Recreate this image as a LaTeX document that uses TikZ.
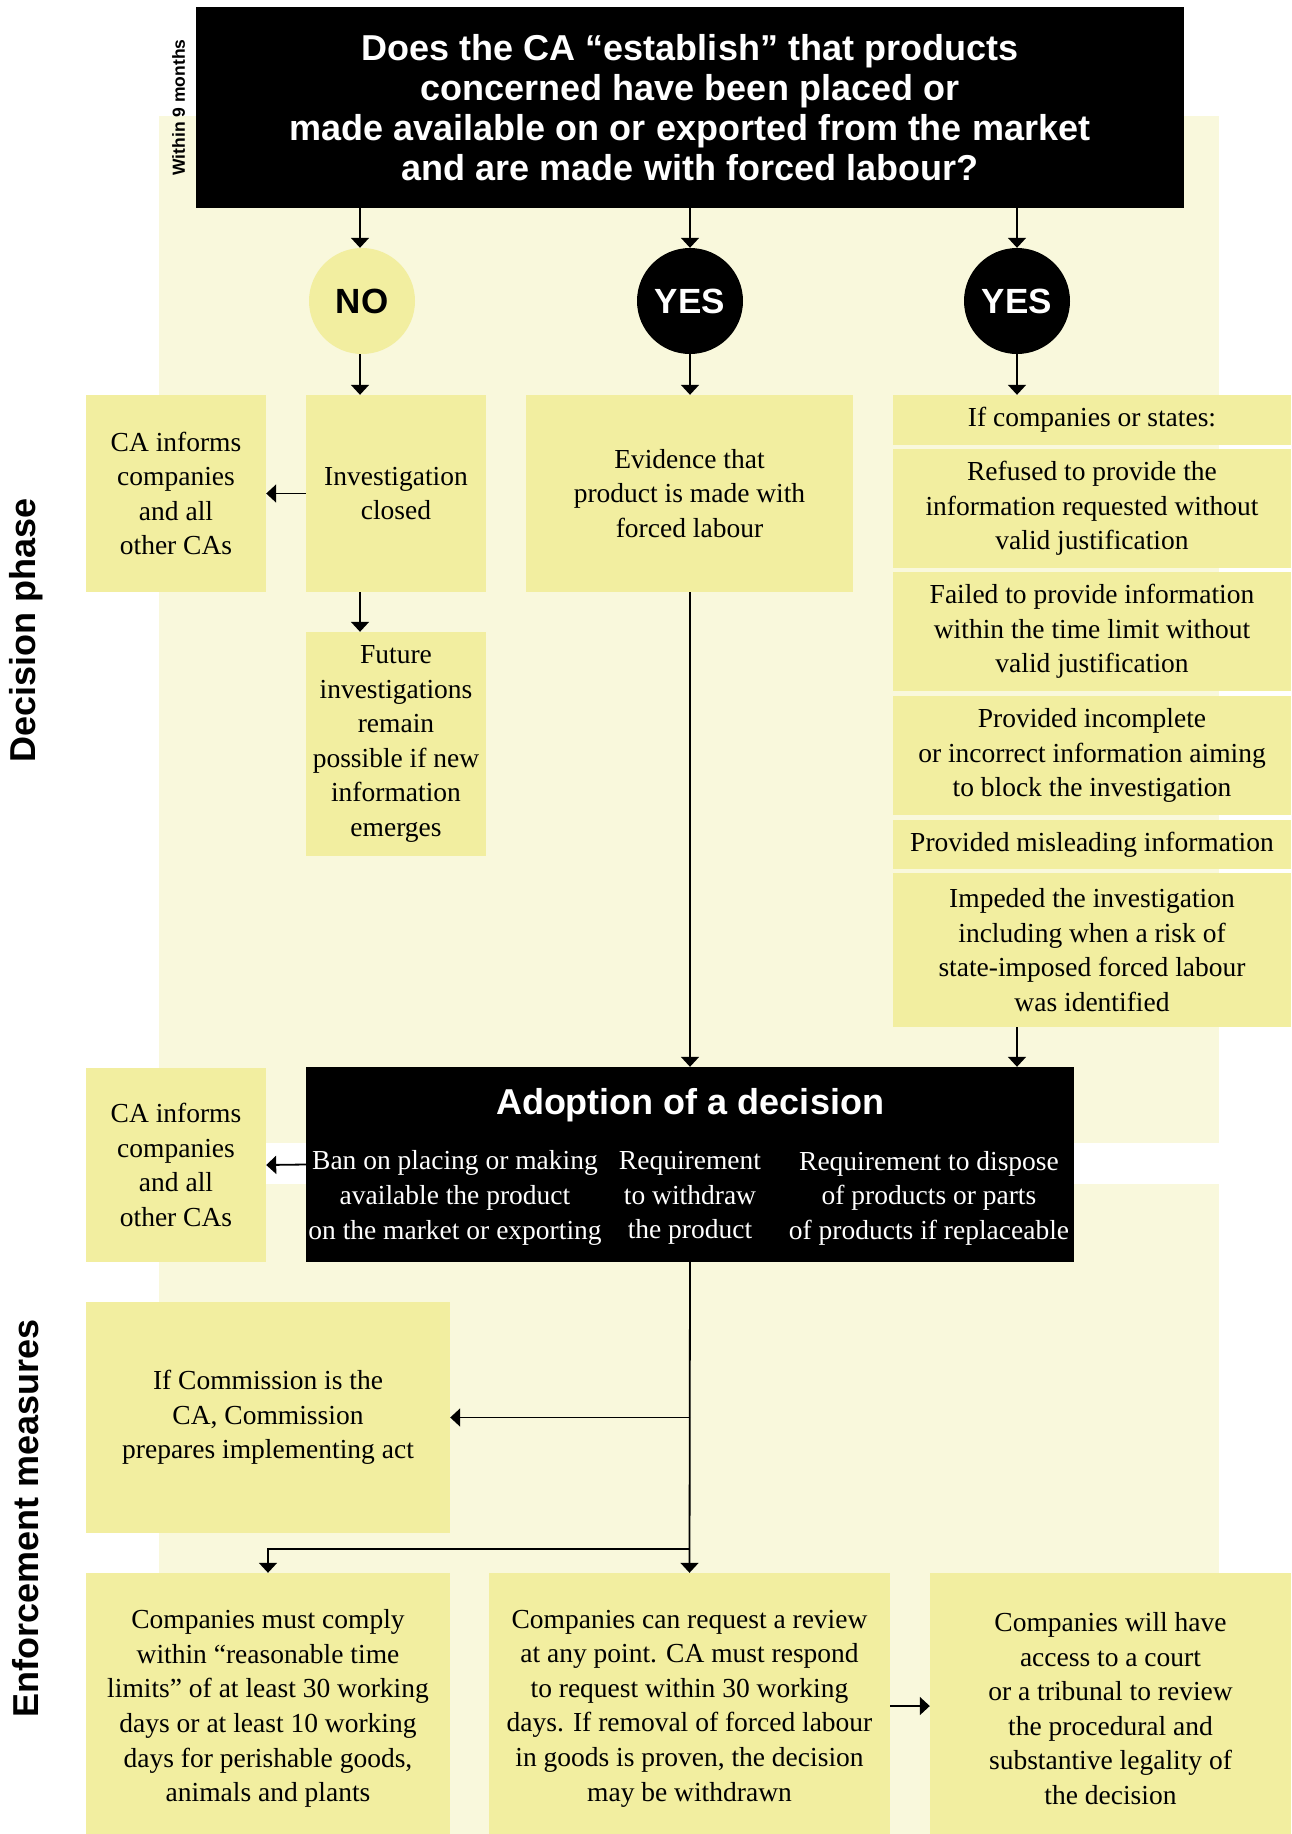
\documentclass[tikz,border=0pt]{standalone}
\usepackage{fontspec}
\setmainfont{Liberation Serif}
\newfontfamily\hsans{Liberation Sans}
\usetikzlibrary{arrows.meta}
\definecolor{bgcream}{HTML}{F9F8DC}
\definecolor{boxyellow}{HTML}{F2EEA0}
\tikzset{
  ybox/.style={fill=boxyellow, inner sep=0pt, align=center,
    font=\fontsize{27.5}{34.6}\selectfont},
  blackbox/.style={fill=black, inner sep=0pt, align=center, text=white},
  headtext/.style={font=\hsans\bfseries\fontsize{36}{40}\selectfont},
  wserif/.style={text=white, inner sep=0pt, align=center,
    font=\fontsize{27.5}{34.6}\selectfont},
  answer/.style={circle, minimum size=106pt, inner sep=0pt,
    font=\hsans\bfseries\fontsize{35}{38}\selectfont},
  sidelabel/.style={rotate=90, inner sep=0pt,
    font=\hsans\bfseries\fontsize{36}{40}\selectfont},
  arr/.style={line width=1.8pt, -{Triangle[length=10pt,width=18pt]}},
  plain/.style={line width=1.8pt}
}
\begin{document}
\begin{tikzpicture}[x=1pt,y=-1pt]
\useasboundingbox (0,0) rectangle (1291,1834);
\clip (0,0) rectangle (1291,1834);
% backgrounds
\fill[bgcream] (159,116) rectangle (1219,1143);
\fill[bgcream] (159,1184) rectangle (1219,1834);

% side labels
\node[sidelabel] (lbldec) at (26,630) {Decision phase};
\node[sidelabel] (lblenf) at (26,1518) {Enforcement measures};
\node[rotate=90, inner sep=0pt, font=\hsans\bfseries\fontsize{17.5}{20}\selectfont] (lbl9) at (178.5,107.5) {Within 9 months};

% top question
\node[blackbox, headtext, minimum width=988pt, minimum height=201pt] (top) at (690,107.5)
  {Does the CA “establish” that products\\ concerned have been placed or\\ made available on or exported from the market\\ and are made with forced labour?};

% answers
\node[answer, fill=boxyellow, text=black] (no) at (362,301) {NO};
\node[answer, fill=black, text=white] (yes1) at (690,301) {YES};
\node[answer, fill=black, text=white] (yes2) at (1017,301) {YES};

% decision phase boxes
\node[ybox, minimum width=180pt, minimum height=197pt] (ca1) at (176,493.5)
  {CA informs\\ companies\\ and all\\ other CAs};
\node[ybox, minimum width=180pt, minimum height=197pt] (inv) at (396,493.5)
  {Investigation\\ closed};
\node[ybox, minimum width=327pt, minimum height=197pt] (evid) at (689.5,493.5)
  {Evidence that\\ product is made with\\ forced labour};
\node[ybox, minimum width=180pt, minimum height=224pt] (fut) at (396,744)
  {Future\\ investigations\\ remain\\ possible if new\\ information\\ emerges};

\node[ybox, minimum width=398pt, minimum height=50pt] (r0) at (1092,420)
  {If companies or states:};
\node[ybox, minimum width=398pt, minimum height=119pt] (r1) at (1092,508.5)
  {Refused to provide the\\ information requested without\\ valid justification};
\node[ybox, minimum width=398pt, minimum height=119pt] (r2) at (1092,631.5)
  {Failed to provide information\\ within the time limit without\\ valid justification};
\node[ybox, minimum width=398pt, minimum height=119pt] (r3) at (1092,755.5)
  {Provided incomplete\\ or incorrect information aiming\\ to block the investigation};
\node[ybox, minimum width=398pt, minimum height=49pt] (r4) at (1092,844.5)
  {Provided misleading information};
\node[ybox, minimum width=398pt, minimum height=154pt] (r5) at (1092,950)
  {Impeded the investigation\\ including when a risk of\\ state-imposed forced labour\\ was identified};

% decision box
\node[fill=black, minimum width=768pt, minimum height=195pt, inner sep=0pt] (dec) at (690,1164.5) {};
\node[text=white, inner sep=0pt, headtext] (dectitle) at (690,1105) {Adoption of a decision};
\node[wserif] (decA) at (455,1198) {Ban on placing or making\\ available the product\\ on the market or exporting};
\node[wserif] (decB) at (690,1198) {Requirement\\ to withdraw\\ the product};
\node[wserif] (decC) at (929,1198) {Requirement to dispose\\ of products or parts\\ of products if replaceable};

\node[ybox, minimum width=180pt, minimum height=194pt] (ca2) at (176,1165)
  {CA informs\\ companies\\ and all\\ other CAs};

% enforcement boxes
\node[ybox, minimum width=364pt, minimum height=231pt] (comm) at (268,1417.5)
  {If Commission is the\\ CA, Commission\\ prepares implementing act};
\node[ybox, minimum width=364pt, minimum height=271pt] (b1) at (268,1708.5)
  {Companies must comply\\ within “reasonable time\\ limits” of at least 30 working\\ days or at least 10 working\\ days for perishable goods,\\ animals and plants};
\node[ybox, minimum width=401pt, minimum height=271pt] (b2) at (689.5,1708.5)
  {Companies can request a review\\ at any point. CA must respond\\ to request within 30 working\\ days. If removal of forced labour\\ in goods is proven, the decision\\ may be withdrawn};
\node[ybox, minimum width=361pt, minimum height=271pt] (b3) at (1110.5,1708.5)
  {Companies will have\\ access to a court\\ or a tribunal to review\\ the procedural and\\ substantive legality of\\ the decision};

% connectors
\coordinate (colno) at (360,301);
\draw[arr] (top.south -| colno) -- (colno |- no.north);
\draw[arr] (top.south -| yes1) -- (yes1.north);
\draw[arr] (top.south -| yes2) -- (yes2.north);
\draw[arr] (colno |- no.south) -- (colno |- inv.north);
\draw[arr] (yes1.south) -- (yes1.south |- evid.north);
\draw[arr] (yes2.south) -- (yes2.south |- r0.north);
\draw[arr] (inv.west) -- (ca1.east);
\draw[arr] (inv.south -| colno) -- (fut.north -| colno);
\draw[arr] (evid.south -| yes1) -- (dec.north -| yes1);
\draw[arr] (r5.south -| yes2) -- (dec.north -| yes2);
\draw[arr] (dec.west) -- (ca2.east);
\draw[arr] (dec.south) -- (b2.north);
\draw[arr] (dec.south |- comm.east) -- (comm.east);
\coordinate (split) at (690,1549);
\draw[arr] (split) -| (b1.north);
\draw[arr] (b2.east |- 0,1706) -- (b3.west |- 0,1706);
\end{tikzpicture}
\end{document}
